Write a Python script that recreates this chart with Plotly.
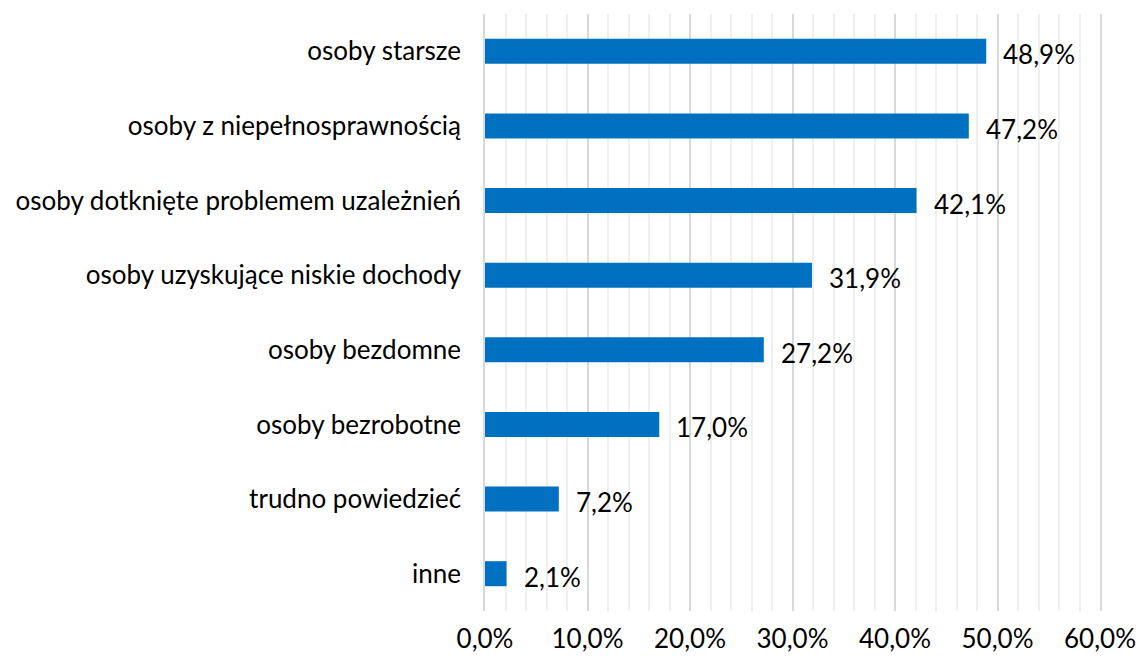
import plotly.graph_objects as go

categories = ["osoby starsze", "osoby z niepełnosprawnością", "osoby dotknięte problemem uzależnień",
              "osoby uzyskujące niskie dochody", "osoby bezdomne", "osoby bezrobotne",
              "trudno powiedzieć", "inne"]
values = [48.9, 47.2, 42.1, 31.9, 27.2, 17.0, 7.2, 2.1]
tick_vals = [0, 10, 20, 30, 40, 50, 60]
tick_text = ["0,0%", "10,0%", "20,0%", "30,0%", "40,0%", "50,0%", "60,0%"]
labels = [f"{v:.1f}%".replace(".", ",") for v in values]

font = "Lato, 'Open Sans', sans-serif"
fsize = 26

fig = go.Figure(go.Bar(
    x=values, y=categories, orientation="h",
    marker=dict(color="#0070C0", line=dict(width=0)),
    width=0.335,
))

for v, c, t in zip(values, categories, labels):
    fig.add_annotation(x=v, y=c, text=t, showarrow=False, xanchor="left",
                       xshift=15, yshift=-3,
                       font=dict(size=fsize, color="#000000", family=font))

fig.update_layout(
    width=1140, height=662,
    margin=dict(l=485, r=40, t=14, b=51),
    plot_bgcolor="white", paper_bgcolor="white",
    showlegend=False,
    font=dict(family=font, size=fsize, color="#000000"),
    xaxis=dict(range=[0, 60], tickvals=tick_vals, ticktext=tick_text,
               showgrid=True, gridcolor="#d9d9d9", gridwidth=1.5,
               minor=dict(dtick=2, showgrid=True, gridcolor="#efefef", gridwidth=1.5),
               zeroline=False, ticklabelstandoff=10, automargin=False,
               tickfont=dict(size=fsize)),
    yaxis=dict(categoryorder="array", categoryarray=categories[::-1],
               ticklabelstandoff=17, automargin=False,
               showline=True, mirror=True, linecolor="#d9d9d9", linewidth=1.5,
               tickfont=dict(size=fsize), showgrid=False),
)

fig.write_html("out.html", config={"displayModeBar": False},
               post_script="document.body.style.margin='0';document.body.style.overflow='hidden';")
